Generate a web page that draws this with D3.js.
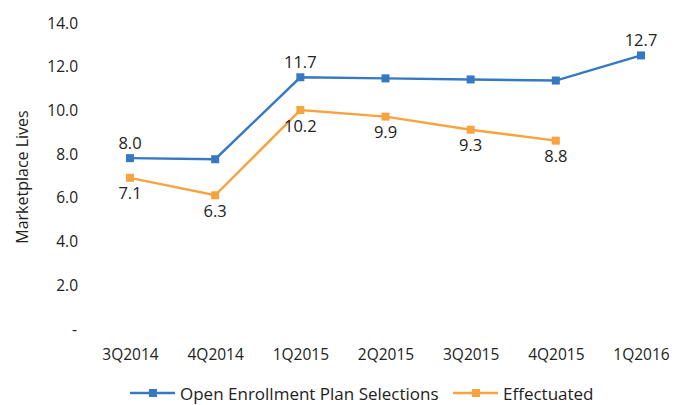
<!DOCTYPE html>
<html>
<head>
<meta charset="utf-8">
<script src="https://cdn.jsdelivr.net/npm/d3@7"></script>
<style>
  html, body { margin: 0; padding: 0; background: #fff; }
  svg { display: block; font-family: "Open Sans", "Noto Sans", sans-serif; }
</style>
</head>
<body>
<svg id="chart" width="678" height="405"></svg>
<script>
// Quarterly marketplace enrollment, millions of lives
const quarters = ["3Q2014", "4Q2014", "1Q2015", "2Q2015", "3Q2015", "4Q2015", "1Q2016"];
const planSelections = [8.0, 7.95, 11.7, 11.65, 11.6, 11.55, 12.7];
const effectuated = [7.1, 6.3, 10.2, 9.9, 9.3, 8.8, null];
// Which points carry a value label
const planLabelled = [true, false, true, false, false, false, true];
const effLabelled = [true, true, true, true, true, true, false];
const yTicks = [0, 2, 4, 6, 8, 10, 12, 14];
const yTitle = "Marketplace Lives";
const seriesNames = ["Open Enrollment Plan Selections", "Effectuated"];

const svg = d3.select("#chart");
const textColor = "#222";
const blue = "#3479c2";
const orange = "#f7a440";

const x = d3.scalePoint().domain(quarters).range([130, 641]);
const y = d3.scaleLinear().domain([0, 14]).range([333, 27]);

// Y axis: labels only
const yAxis = d3.axisLeft(y).tickValues(yTicks)
  .tickFormat(d => d === 0 ? "-" : d3.format(".1f")(d))
  .tickSize(0).tickPadding(0);
const yg = svg.append("g").attr("transform", "translate(78,0)").call(yAxis);
yg.select(".domain").remove();
yg.selectAll("text")
  .attr("font-size", 15.5).attr("fill", textColor)
  .attr("font-family", "Open Sans, Noto Sans, sans-serif")
  .attr("dy", 0)
  .attr("y", -5)
  .attr("dominant-baseline", "central");
yg.selectAll(".tick").filter(d => d === 0).select("text").attr("x", -1);

// X axis: labels only
const xAxis = d3.axisBottom(x).tickSize(0).tickPadding(0);
const xg = svg.append("g").attr("transform", "translate(0,354)").call(xAxis);
xg.select(".domain").remove();
xg.selectAll("text")
  .attr("font-size", 15.5).attr("fill", textColor)
  .attr("font-family", "Open Sans, Noto Sans, sans-serif")
  .attr("y", 0).attr("dy", 0)
  .attr("dominant-baseline", "central");

// Axis title
svg.append("text")
  .attr("transform", "translate(22,177) rotate(-90)")
  .attr("text-anchor", "middle").attr("dominant-baseline", "central")
  .attr("font-size", 16).attr("fill", textColor)
  .text(yTitle);

function drawSeries(values, color, labelled, above) {
  const pts = quarters.map((q, i) => ({ q, v: values[i], show: labelled[i] }))
    .filter(d => d.v !== null);
  const line = d3.line().x(d => x(d.q)).y(d => y(d.v));
  svg.append("path").datum(pts)
    .attr("d", line).attr("fill", "none")
    .attr("stroke", color).attr("stroke-width", 2.4);
  svg.append("g").selectAll("rect").data(pts).join("rect")
    .attr("x", d => x(d.q) - 4).attr("y", d => y(d.v) - 4)
    .attr("width", 8).attr("height", 8).attr("fill", color);
  svg.append("g").selectAll("text").data(pts.filter(d => d.show)).join("text")
    .attr("x", d => x(d.q)).attr("y", d => y(d.v) + (above ? -16 : 15))
    .attr("text-anchor", "middle").attr("dominant-baseline", "central")
    .attr("font-size", 16.5).attr("fill", textColor)
    .text(d => d3.format(".1f")(d.v));
}

drawSeries(effectuated, orange, effLabelled, false);
drawSeries(planSelections, blue, planLabelled, true);

// Legend
const legendItems = [
  { name: seriesNames[0], color: blue, x0: 130 },
  { name: seriesNames[1], color: orange, x0: 453 }
];
const lg = svg.append("g").attr("transform", "translate(0,393)");
legendItems.forEach(it => {
  lg.append("line").attr("x1", it.x0).attr("x2", it.x0 + 45)
    .attr("y1", 0).attr("y2", 0).attr("stroke", it.color).attr("stroke-width", 2.4);
  lg.append("rect").attr("x", it.x0 + 19).attr("y", -4).attr("width", 8).attr("height", 8)
    .attr("fill", it.color);
  lg.append("text").attr("x", it.x0 + 50).attr("y", 0)
    .attr("dominant-baseline", "central").attr("font-size", 17).attr("fill", textColor)
    .text(it.name);
});
</script>
</body>
</html>
